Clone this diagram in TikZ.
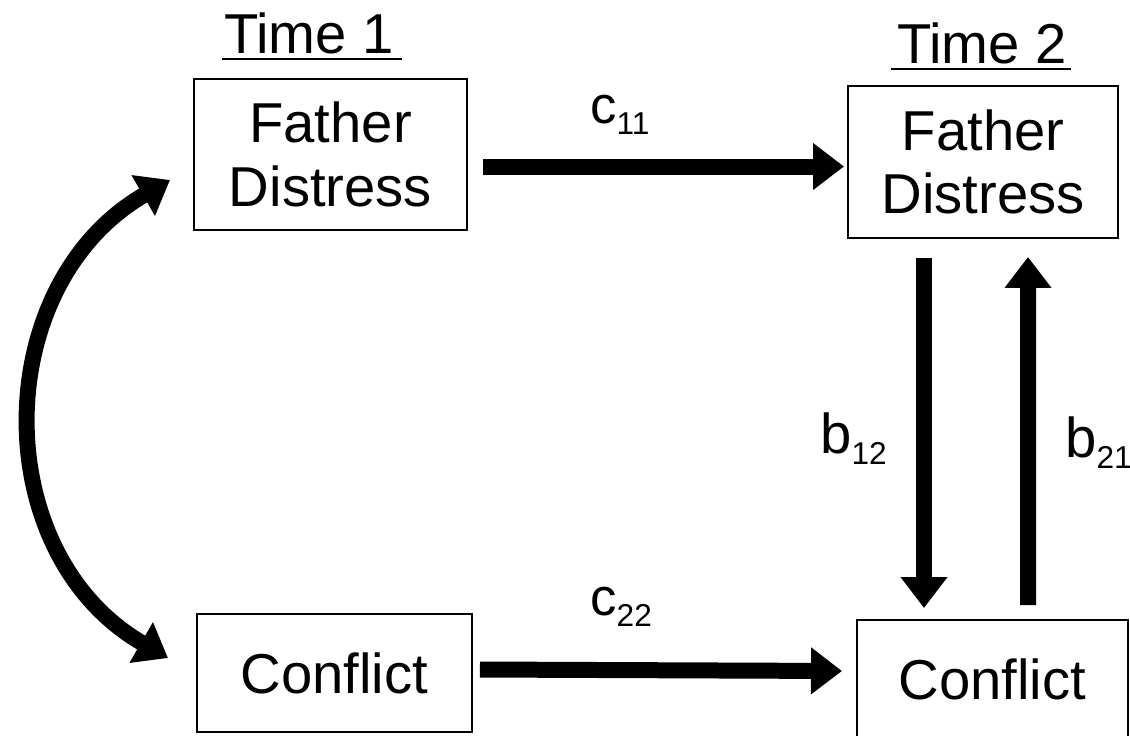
\documentclass[tikz,border=0pt]{standalone}
\usepackage{fontspec}
\setmainfont{Liberation Sans}
\usetikzlibrary{arrows.meta}
\newcommand{\lidx}[2]{#1\raisebox{-0.22cm}{\fontsize{18}{18}\selectfont #2}}

\begin{document}
\begin{tikzpicture}[x=0.02cm, y=-0.02cm,
    box/.style={draw, line width=0.04cm, inner sep=0pt, outer sep=0pt, align=center, font=\fontsize{32}{36}\selectfont},
    ttl/.style={anchor=base, inner sep=0pt, font=\fontsize{32}{36}\selectfont},
    lbl/.style={anchor=base west, inner sep=0pt, font=\fontsize{30}{30}\selectfont},
    bigarrow/.style={line width=0.32cm, -{Triangle[length=0.62cm, width=0.9cm]}},
    uline/.style={line width=0.05cm}]
    \useasboundingbox (0,0) rectangle (1130,735);

    % Titles:
    \node[ttl] (t1) at (309, 53) {Time 1};
    \node[ttl] (t2) at (982, 63) {Time 2};
    \draw[uline] ([shift={(-2,6)}]t1.base west) -- ([shift={(8,6)}]t1.base east);
    \draw[uline] ([shift={(-6,6)}]t2.base west) -- ([shift={(4,6)}]t2.base east);

    % Boxes:
    \node[box, minimum width=5.46cm, minimum height=3.02cm] (fd1) at (330.5, 154.5) {Father\\Distress};
    \node[box, minimum width=5.40cm, minimum height=3.04cm] (fd2) at (983, 162) {Father\\Distress};
    \node[box, minimum width=5.50cm, minimum height=2.36cm] (cf1) at (334.5, 673) {Conflict};
    \node[box, minimum width=5.42cm, minimum height=2.36cm] (cf2) at (992.5, 679) {Conflict};

    % Paths:
    \draw[bigarrow] ([shift={(16,12)}]fd1.east) -- ([shift={(-4,4.5)}]fd2.west);
    \draw[bigarrow] ([shift={(8,-3.5)}]cf1.east) -- ([shift={(-15,-8)}]cf2.west);
    \draw[bigarrow] ([shift={(-59,20)}]fd2.south) -- ([shift={(-68.5,-12)}]cf2.north);
    \draw[bigarrow] ([shift={(35.5,-15)}]cf2.north) -- ([shift={(45,19)}]fd2.south);
    \draw[bigarrow, {Triangle[length=0.62cm, width=0.9cm]}-{Triangle[length=0.62cm, width=0.9cm]}]
        ([shift={(-24,-50)}]fd1.south west) to[out=210, in=150, looseness=1.12] ([shift={(-29,44)}]cf1.north west);

    % Labels:
    \node[lbl] (c11) at (590, 123) {\lidx{c}{11}};
    \node[lbl] (c22) at (590, 615) {\lidx{c}{22}};
    \node[lbl, font=\fontsize{32}{34}\selectfont] (b12) at (820, 453) {\lidx{b}{12}};
    \node[lbl, font=\fontsize{32}{34}\selectfont] (b21) at (1065, 457) {\lidx{b}{21}};
\end{tikzpicture}
\end{document}
